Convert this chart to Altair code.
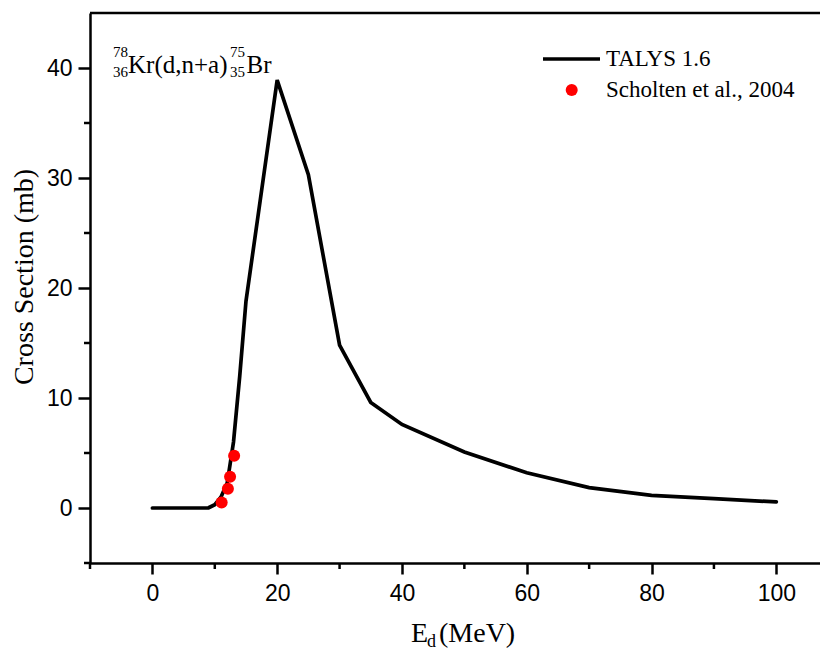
import altair as alt
import pandas as pd

# ---------------- data ----------------
talys_energy = [0, 5, 9, 10, 11, 12, 13, 14, 15, 20, 25, 30, 35, 40, 50, 60, 70, 80, 90, 100]
talys_xs = [0.0, 0.0, 0.02, 0.3, 1.0, 2.3, 6.0, 12.0, 18.8, 38.9, 30.3, 14.8, 9.6, 7.6,
            5.1, 3.2, 1.85, 1.15, 0.85, 0.55]

exp_energy = [11.1, 12.1, 12.45, 13.1]
exp_xs = [0.5, 1.75, 2.85, 4.75]

x_major = [0, 20, 40, 60, 80, 100]
x_minor = [-10, 10, 30, 50, 70, 90]
y_major = [0, 10, 20, 30, 40]
y_minor = [-5, 5, 15, 25, 35]

legend_labels = ["TALYS 1.6", "Scholten et al., 2004"]
x_title_parts = ["E", "d", "(MeV)"]
y_title = "Cross Section (mb)"
reaction_parts = ["78", "36", "Kr(d,n+a)", "75", "35", "Br"]

# ---------------- layout ----------------
W, H = 730, 550
xscale = alt.Scale(domain=[-10, 107], nice=False, zero=False)
yscale = alt.Scale(domain=[-5, 45], nice=False, zero=False)
SERIF = "Liberation Serif"
SANS = "Liberation Sans"

df_line = pd.DataFrame({"E": talys_energy, "xs": talys_xs})
df_pts = pd.DataFrame({"E": exp_energy, "xs": exp_xs})
df_xminor = pd.DataFrame({"E": x_minor})
df_yminor = pd.DataFrame({"xs": y_minor})

x_axis = alt.Axis(values=x_major, title=None, grid=False, tickSize=11, labelPadding=8,
                  labelFlush=False, labelOverlap=False)
y_axis = alt.Axis(values=y_major, title=None, grid=False, tickSize=12, labelPadding=6,
                  labelOverlap=False)

X = alt.X("E:Q", scale=xscale, axis=x_axis)
Y = alt.Y("xs:Q", scale=yscale, axis=y_axis)

line = alt.Chart(df_line).mark_line(color="black", strokeWidth=3.7, strokeCap="round").encode(
    x=X, y=Y
)

pts = alt.Chart(df_pts).mark_point(filled=True, color="#ff0000", size=145, opacity=1).encode(
    x=X, y=Y
)

xminor = alt.Chart(df_xminor).mark_rule(color="black", strokeWidth=2.5).encode(
    x=X, y=alt.value(H), y2=alt.value(H + 6)
)

yminor = alt.Chart(df_yminor).mark_rule(color="black", strokeWidth=2.5).encode(
    y=Y, x=alt.value(0), x2=alt.value(-6)
)

top_spine = alt.Chart().mark_rule(color="black", strokeWidth=2.5).encode(
    x=alt.value(0), x2=alt.value(W), y=alt.value(0)
)


def txt(s, x, y, size, align="left", baseline="alphabetic", font=SERIF, angle=0):
    return alt.Chart().mark_text(
        font=font, fontSize=size, align=align, baseline=baseline, color="black", angle=angle
    ).encode(x=alt.value(x), y=alt.value(y), text=alt.value(s))


# legend
leg_line = alt.Chart().mark_rule(color="black", strokeWidth=3.7).encode(
    x=alt.value(453), x2=alt.value(510), y=alt.value(46)
)
leg_dot = alt.Chart().mark_point(filled=True, color="#ff0000", size=145, opacity=1).encode(
    x=alt.value(481.7), y=alt.value(77)
)
leg_t1 = txt(legend_labels[0], 516, 46, 23, baseline="middle")
leg_t2 = txt(legend_labels[1], 516, 77, 23, baseline="middle")

# reaction annotation
ann = [
    txt(reaction_parts[0], 23, 39, 15, baseline="middle"),
    txt(reaction_parts[1], 23, 59, 15, baseline="middle"),
    txt(reaction_parts[2], 38, 60, 25),
    txt(reaction_parts[3], 140, 39, 15, baseline="middle"),
    txt(reaction_parts[4], 140, 59, 15, baseline="middle"),
    txt(reaction_parts[5], 156.5, 60, 25),
]

# axis titles
xt = [
    txt(x_title_parts[0], 321, 629, 28),
    txt(x_title_parts[1], 337, 634, 18),
    txt(x_title_parts[2], 349, 629, 28),
]
yt = txt(y_title, -65, 264, 28, align="center", baseline="middle", angle=270)

chart = alt.layer(
    line, pts, xminor, yminor, top_spine, leg_line, leg_dot, leg_t1, leg_t2, *ann, *xt, yt
).properties(
    width=W, height=H,
    autosize=alt.AutoSizeParams(type="none"),
    padding={"left": 82, "top": 5, "right": 0, "bottom": 90},
).configure_view(stroke=None).configure_axis(
    domainColor="black", domainWidth=2.5, tickColor="black", tickWidth=2.5,
    labelFont=SANS, labelFontSize=23, labelColor="black",
)

chart.save("out.html", embed_options={"renderer": "svg", "actions": False})
